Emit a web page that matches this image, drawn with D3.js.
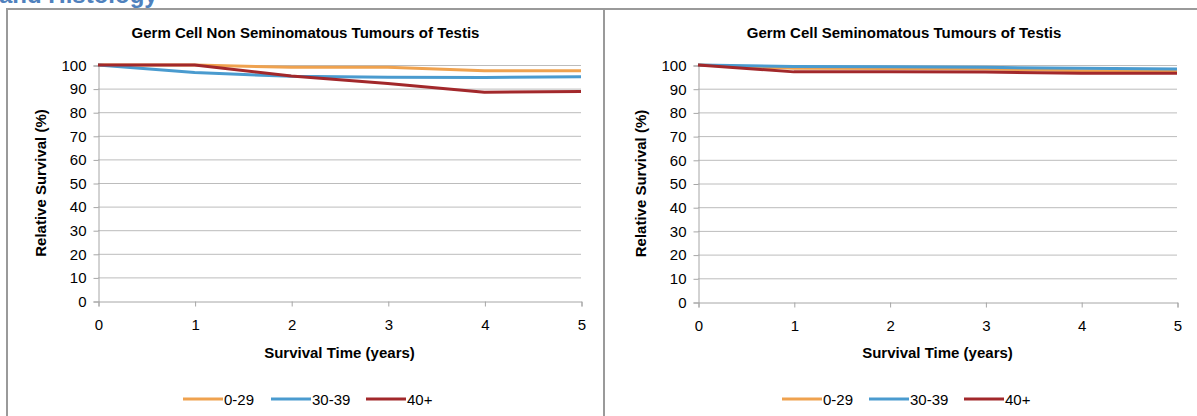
<!DOCTYPE html>
<html>
<head>
<meta charset="utf-8">
<script src="https://cdn.jsdelivr.net/npm/d3@7"></script>
<style>
  html, body { margin: 0; padding: 0; background: #fff; }
  svg { display: block; }
  text { font-family: "Liberation Sans", Arial, sans-serif; fill: #000; }
</style>
</head>
<body>
<svg id="root" width="1197" height="416"></svg>
<script>
// Survival time points (years)
const years = [0, 1, 2, 3, 4, 5];
const yTicks = [0, 10, 20, 30, 40, 50, 60, 70, 80, 90, 100];
const ageGroups = ["0-29", "30-39", "40+"];
const groupColors = ["#EFA24F", "#4A9BCF", "#A2282B"];

// Relative survival (%) by age group - non seminomatous
const nonSem0_29 = [100, 100, 99.0, 99.0, 97.6, 97.6];
const nonSem30_39 = [100, 96.8, 95.2, 94.8, 94.7, 95.0];
const nonSem40p = [100, 100, 95.3, 92.2, 88.5, 88.8];

// Relative survival (%) by age group - seminomatous
const sem0_29 = [100, 98.6, 98.5, 98.3, 97.6, 97.5];
const sem30_39 = [100, 99.4, 99.3, 99.0, 98.6, 98.3];
const sem40p = [100, 97.1, 97.1, 97.0, 96.5, 96.5];

const panels = [
  { title: "Germ Cell Non Seminomatous Tumours of Testis",
    series: [nonSem0_29, nonSem30_39, nonSem40p],
    frame: [7, 9, 597], plot: [98, 581, 65, 301],
    legendX: [183, 271, 366] },
  { title: "Germ Cell Seminomatous Tumours of Testis",
    series: [sem0_29, sem30_39, sem40p],
    frame: [604, 9, 600], plot: [698, 1177, 65, 302],
    legendX: [782, 869, 964] }
];

const svg = d3.select("#root");

// Section heading, mostly hidden above the charts
svg.append("text")
  .attr("x", -1).attr("y", 3)
  .style("font-weight", "bold").style("font-size", "24px")
  .style("fill", "#4F81BD")
  .text("and Histology");

panels.forEach(p => {
  const [fx, fy, fw] = p.frame;
  svg.append("rect")
    .attr("x", fx).attr("y", fy).attr("width", fw).attr("height", 440)
    .attr("fill", "#fff").attr("stroke", "#9a9a9a").attr("stroke-width", 2);
});

panels.forEach(p => {
  const [px0, px1, pyTop, pyBot] = p.plot;
  const x = d3.scaleLinear().domain([0, 5]).range([px0, px1]);
  const y = d3.scaleLinear().domain([0, 100]).range([pyBot, pyTop]);
  const g = svg.append("g");

  // horizontal gridlines
  g.append("g").selectAll("line").data(yTicks.filter(t => t > 0)).join("line")
    .attr("x1", px0).attr("x2", px1)
    .attr("y1", d => y(d) + 0.5).attr("y2", d => y(d) + 0.5)
    .attr("stroke", "#bcbcbc").attr("stroke-width", 1);

  // y axis
  const yAxis = g.append("g").attr("transform", `translate(${px0 + 0.5},0.5)`)
    .call(d3.axisLeft(y).tickValues(yTicks).tickSize(5).tickPadding(7).tickFormat(d3.format("d")));
  // x axis
  const xAxis = g.append("g").attr("transform", `translate(0.5,${pyBot + 0.5})`)
    .call(d3.axisBottom(x).tickValues(years).tickSize(5).tickPadding(13).tickFormat(d3.format("d")));
  [yAxis, xAxis].forEach(a => {
    a.select(".domain").attr("stroke", "#a6a6a6");
    a.selectAll(".tick line").attr("stroke", "#a6a6a6");
    a.selectAll(".tick text").style("font-size", "15px").style("fill", "#000")
      .style("font-family", "'Liberation Sans', Arial, sans-serif");
  });

  // survival curves
  const line = d3.line().x((d, i) => x(years[i])).y(d => y(d));
  p.series.forEach((s, i) => {
    g.append("path").datum(s)
      .attr("d", line).attr("fill", "none")
      .attr("stroke", groupColors[i]).attr("stroke-width", 3)
      .attr("stroke-linejoin", "round");
  });

  // titles
  const cx = (px0 + px1) / 2;
  g.append("text").attr("x", p.frame[0] + p.frame[2] / 2).attr("y", 38)
    .attr("text-anchor", "middle").style("font-weight", "bold").style("font-size", "15px")
    .text(p.title);
  g.append("text").attr("x", cx).attr("y", 358)
    .attr("text-anchor", "middle").style("font-weight", "bold").style("font-size", "15px")
    .text("Survival Time (years)");
  g.append("text")
    .attr("transform", `translate(${px0 - 52},${(pyTop + pyBot) / 2}) rotate(-90)`)
    .attr("text-anchor", "middle").style("font-weight", "bold").style("font-size", "15px")
    .text("Relative Survival (%)");

  // legend
  ageGroups.forEach((name, i) => {
    const lx = p.legendX[i];
    g.append("line").attr("x1", lx).attr("x2", lx + 40).attr("y1", 399).attr("y2", 399)
      .attr("stroke", groupColors[i]).attr("stroke-width", 3);
    g.append("text").attr("x", lx + 41).attr("y", 404.5).style("font-size", "15px").text(name);
  });
});
</script>
</body>
</html>
